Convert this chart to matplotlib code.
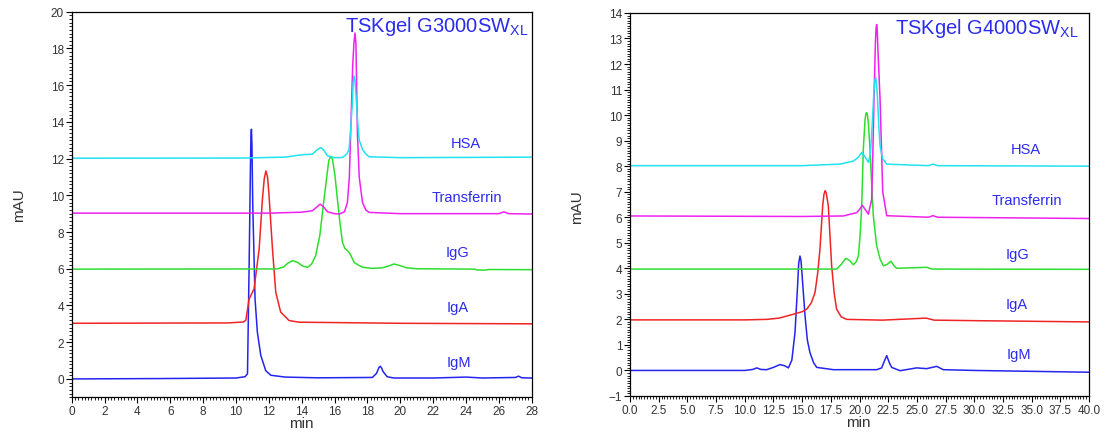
import matplotlib
matplotlib.use("Agg")
import matplotlib.pyplot as plt
from matplotlib.ticker import MultipleLocator, AutoMinorLocator, FormatStrFormatter

plt.rcParams['font.family'] = ['Liberation Sans', 'DejaVu Sans']
plt.rcParams['mathtext.fontset'] = 'custom'
plt.rcParams['mathtext.rm'] = 'Liberation Sans'

# ---- TSKgel G3000SWXL (left) ----
igm_l_t = [0, 5.4, 10.0, 10.55, 10.7, 10.8, 10.88, 10.91, 10.94, 10.97, 11.02, 11.16, 11.3, 11.51, 11.81, 12.12,
           13.0, 15.0, 18.3, 18.55, 18.7, 18.78, 18.86, 18.95, 19.2, 19.6, 22, 24, 25, 27.0, 27.2, 27.4, 28]
igm_l_y = [0, 0.02, 0.05, 0.12, 0.28, 6.2, 11.6, 13.2, 13.6, 12.8, 9.5, 4.36, 2.55, 1.28, 0.45, 0.2,
           0.1, 0.06, 0.08, 0.3, 0.62, 0.69, 0.6, 0.4, 0.12, 0.05, 0.05, 0.1, 0.05, 0.08, 0.15, 0.06, 0.05]

iga_l_t = [0, 9.5, 10.45, 10.6, 10.8, 11.1, 11.41, 11.61, 11.72, 11.82, 11.92, 12.0, 12.22, 12.42, 12.72, 13.23,
           13.84, 20, 28]
iga_l_y = [3.03, 3.05, 3.1, 3.2, 4.36, 4.9, 7.08, 9.8, 10.9, 11.33, 11.0, 10.15, 7.08, 4.72, 3.64, 3.18,
           3.09, 3.03, 3.0]

igg_l_t = [0, 12.5, 12.9, 13.15, 13.43, 13.75, 14.05, 14.35, 14.6, 14.85, 15.1, 15.36, 15.55, 15.65, 15.73, 15.8,
           15.87, 16.02, 16.17, 16.33, 16.48, 16.63, 16.78, 16.95, 17.19, 17.45, 17.7, 18.3, 18.9, 19.3, 19.62,
           19.95, 20.4, 21, 24.5, 24.7, 25.2, 25.4, 28]
igg_l_y = [5.98, 5.99, 6.1, 6.3, 6.44, 6.35, 6.15, 6.08, 6.25, 6.72, 7.8, 9.8, 11.2, 11.9, 12.06, 12.08,
           11.97, 11.1, 9.8, 8.5, 7.44, 7.1, 6.99, 6.8, 6.35, 6.2, 6.08, 6.02, 6.05, 6.15, 6.26,
           6.18, 6.05, 6.0, 5.98, 5.93, 5.93, 5.96, 5.95]

hsa_l_t = [0, 10.5, 13.0, 13.84, 14.2, 14.65, 14.9, 15.16, 15.35, 15.57, 16.0, 16.48, 16.75, 16.88, 16.98,
           17.09, 17.13, 17.18, 17.23, 17.28, 17.39, 17.5, 17.7, 17.9, 18.1, 20, 28]
hsa_l_y = [12.02, 12.03, 12.08, 12.19, 12.22, 12.24, 12.45, 12.6, 12.45, 12.15, 12.05, 12.06, 12.25, 12.5, 13.6,
           15.2, 16.1, 16.5, 16.3, 15.8, 14.2, 13.0, 12.5, 12.25, 12.1, 12.05, 12.08]

trf_l_t = [0, 12, 14.0, 14.65, 14.9, 15.12, 15.35, 15.57, 16.0, 16.28, 16.6, 16.78, 16.9, 16.98, 17.1, 17.18,
           17.24, 17.3, 17.39, 17.5, 17.7, 17.9, 18.1, 20, 26.0, 26.3, 26.6, 28]
trf_l_y = [9.03, 9.03, 9.08, 9.16, 9.35, 9.52, 9.35, 9.1, 9.0, 8.98, 9.1, 9.6, 11.0, 13.4, 17.0, 18.3,
           18.84, 18.3, 13.4, 11.0, 9.6, 9.2, 9.07, 9.0, 9.0, 9.1, 9.0, 8.98]

# ---- TSKgel G4000SWXL (right) ----
igm_r_t = [0, 5, 10.0, 10.7, 11.04, 11.4, 11.91, 12.5, 13.07, 13.5, 13.8, 14.1, 14.38, 14.6, 14.7, 14.81, 14.9,
           15.0, 15.25, 15.45, 15.68, 16.0, 16.27, 17.72, 21.5, 21.93, 22.15, 22.37, 22.6, 22.8, 23.53, 24.98,
           25.85, 26.72, 27.3, 30, 40]
igm_r_y = [0.0, 0.0, 0.0, 0.04, 0.1, 0.04, 0.03, 0.12, 0.23, 0.18, 0.1, 0.4, 1.5, 3.3, 4.2, 4.48, 4.3,
           3.7, 2.15, 1.2, 0.7, 0.3, 0.12, 0.03, 0.03, 0.1, 0.35, 0.58, 0.3, 0.12, -0.01, 0.1,
           0.07, 0.16, 0.03, 0.0, -0.07]

iga_r_t = [0, 10, 11.91, 13, 14.23, 15.0, 15.4, 15.8, 16.12, 16.35, 16.55, 16.79, 16.9, 17.0, 17.1, 17.28, 17.57,
           17.8, 18.0, 18.4, 18.88, 22, 25.8, 26.5, 30, 40]
iga_r_y = [1.98, 1.98, 2.0, 2.05, 2.2, 2.3, 2.4, 2.65, 3.05, 3.8, 4.74, 6.45, 6.9, 7.04, 6.95, 6.45, 4.1,
           3.0, 2.4, 2.1, 2.0, 1.97, 2.05, 1.97, 1.95, 1.9]

igg_r_t = [0, 15, 18.01, 18.4, 18.8, 19.15, 19.46, 19.7, 19.9, 20.05, 20.19, 20.33, 20.48, 20.55, 20.62, 20.69,
           20.77, 20.91, 21.06, 21.2, 21.49, 21.8, 22.07, 22.4, 22.74, 23.0, 23.23, 25.85, 26.3, 40]
igg_r_y = [3.97, 3.97, 3.97, 4.15, 4.39, 4.3, 4.14, 4.25, 4.49, 5.3, 6.45, 8.67, 9.8, 10.05, 10.1, 10.0,
           9.7, 8.67, 7.3, 6.06, 4.89, 4.35, 4.1, 4.15, 4.28, 4.1, 4.0, 4.04, 3.97, 3.96]

hsa_r_t = [0, 15, 18.3, 19.46, 19.9, 20.19, 20.5, 20.77, 20.95, 21.1, 21.25, 21.33, 21.4, 21.47, 21.55, 21.7,
           21.79, 22.0, 22.37, 26.0, 26.4, 26.8, 40]
hsa_r_y = [8.02, 8.02, 8.08, 8.2, 8.35, 8.54, 8.35, 8.15, 8.5, 9.6, 10.9, 11.3, 11.48, 11.3, 10.8, 9.4,
           8.8, 8.3, 8.08, 8.02, 8.08, 8.02, 8.0]

trf_r_t = [0, 15, 18.59, 19.75, 20.0, 20.24, 20.5, 20.77, 21.06, 21.16, 21.26, 21.38, 21.44, 21.49, 21.54, 21.6,
           21.79, 22.02, 22.37, 26, 26.4, 26.8, 40]
trf_r_y = [6.05, 6.03, 6.05, 6.18, 6.3, 6.47, 6.3, 6.12, 6.7, 8.5, 10.6, 12.8, 13.4, 13.55, 13.35, 12.6,
           10.6, 7.0, 6.06, 6.0, 6.06, 6.0, 5.95]

names = ["IgM", "IgA", "IgG", "Transferrin", "HSA"]
colors = ["#2424f0", "#f02424", "#2ede2e", "#f020f0", "#20e2f0"]
text_blue = "#2b2bef"

left_traces = [(igm_l_t, igm_l_y), (iga_l_t, iga_l_y), (igg_l_t, igg_l_y), (trf_l_t, trf_l_y), (hsa_l_t, hsa_l_y)]
right_traces = [(igm_r_t, igm_r_y), (iga_r_t, iga_r_y), (igg_r_t, igg_r_y), (trf_r_t, trf_r_y), (hsa_r_t, hsa_r_y)]

left_label_pos = [(23.55, 0.93), (23.5, 3.93), (23.5, 6.93), (24.06, 9.93), (23.97, 12.84)]
right_label_pos = [(33.9, 0.65), (33.7, 2.61), (33.8, 4.57), (34.6, 6.66), (34.5, 8.66)]


def style_axes(ax, xmax, xmajor, ymin, ymax, ymajor, xfmt):
    ax.set_xlim(0, xmax)
    ax.set_ylim(ymin, ymax)
    ax.xaxis.set_major_locator(MultipleLocator(xmajor))
    ax.yaxis.set_major_locator(MultipleLocator(ymajor))
    ax.xaxis.set_minor_locator(AutoMinorLocator(10))
    ax.yaxis.set_minor_locator(AutoMinorLocator(10))
    ax.xaxis.set_major_formatter(FormatStrFormatter(xfmt))
    ax.tick_params(which='major', direction='out', length=4, width=0.8, pad=1.5,
                   labelsize=8.5, labelcolor='#333333', top=False, right=False)
    ax.tick_params(which='minor', direction='out', length=2, width=0.6, top=False, right=False)
    for s in ax.spines.values():
        s.set_linewidth(0.9)
    ax.set_xlabel("min", fontsize=11, color='#333333')
    ax.set_ylabel("mAU", fontsize=11, color='#333333')


fig = plt.figure(figsize=(11.08, 4.35), dpi=100)
ax1 = fig.add_axes([0.0647, 0.0844, 0.4152, 0.8864])
ax2 = fig.add_axes([0.5686, 0.0874, 0.4143, 0.8805])

for ax, traces, lpos in [(ax1, left_traces, left_label_pos), (ax2, right_traces, right_label_pos)]:
    for (t, y), c, n, (lx, ly) in zip(traces, colors, names, lpos):
        ax.plot(t, y, color=c, lw=1.1)
        ax.text(lx, ly, n, color=text_blue, fontsize=10.5, ha='center', va='center')

style_axes(ax1, 28, 2, -1, 20, 2, '%d')
style_axes(ax2, 40, 2.5, -1, 14, 1, '%.1f')

ax1.xaxis.set_label_coords(0.5, -0.048)
ax1.yaxis.set_label_coords(-0.10, 0.5)
ax2.xaxis.set_label_coords(0.498, -0.05)
ax2.yaxis.set_label_coords(-0.10, 0.496)

ax1.text(27.78, 19.27, r"TSKgel G3000SW$_{\mathrm{XL}}$", color=text_blue, fontsize=14.5, ha='right', va='center')
ax2.text(39.08, 13.45, r"TSKgel G4000SW$_{\mathrm{XL}}$", color=text_blue, fontsize=14.5, ha='right', va='center')

fig.savefig("out.png", dpi=100)
